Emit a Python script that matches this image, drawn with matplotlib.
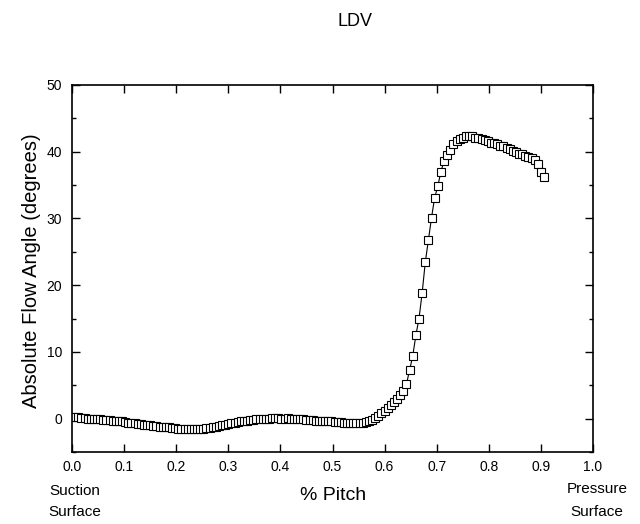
import matplotlib.pyplot as plt
from matplotlib.ticker import MultipleLocator

plt.rcParams['font.family'] = ['Liberation Sans', 'DejaVu Sans']

# LDV traverse across the passage: pitch fraction vs absolute flow angle
pitch = [
    0.000, 0.006, 0.012, 0.018, 0.024, 0.030, 0.036, 0.042, 0.048, 0.054,
    0.060, 0.066, 0.072, 0.078, 0.084, 0.090, 0.096, 0.102, 0.108, 0.114,
    0.120, 0.126, 0.132, 0.138, 0.144, 0.150, 0.156, 0.162, 0.168, 0.174,
    0.180, 0.186, 0.192, 0.198, 0.204, 0.210, 0.216, 0.222, 0.228, 0.234,
    0.240, 0.246, 0.252, 0.258, 0.264, 0.270, 0.276, 0.282, 0.288, 0.294,
    0.300, 0.306, 0.312, 0.318, 0.324, 0.330, 0.336, 0.342, 0.348, 0.354,
    0.360, 0.366, 0.372, 0.378, 0.384, 0.390, 0.396, 0.402, 0.408, 0.414,
    0.420, 0.426, 0.432, 0.438, 0.444, 0.450, 0.456, 0.462, 0.468, 0.474,
    0.480, 0.486, 0.492, 0.498, 0.504, 0.510, 0.516, 0.522, 0.528, 0.534,
    0.540, 0.546, 0.552, 0.558, 0.564, 0.570, 0.576, 0.582, 0.588, 0.594,
    0.600, 0.606, 0.612, 0.618, 0.624, 0.630, 0.636, 0.642, 0.648, 0.654,
    0.660, 0.666, 0.672, 0.678, 0.684, 0.690, 0.696, 0.702, 0.708, 0.714,
    0.720, 0.726, 0.732, 0.738, 0.744, 0.750, 0.756, 0.762, 0.768, 0.774,
    0.780, 0.786, 0.792, 0.798, 0.804, 0.810, 0.816, 0.822, 0.828, 0.834,
    0.840, 0.846, 0.852, 0.858, 0.864, 0.870, 0.876, 0.882, 0.888, 0.894,
    0.900, 0.906,
]
angle = [
    0.3, 0.2, 0.2, 0.1, 0.1, 0.0, 0.0, -0.1, -0.1, -0.1,
    -0.2, -0.2, -0.2, -0.3, -0.3, -0.4, -0.4, -0.5, -0.6, -0.6,
    -0.7, -0.8, -0.8, -0.9, -1.0, -1.0, -1.1, -1.1, -1.2, -1.2,
    -1.3, -1.3, -1.4, -1.4, -1.5, -1.5, -1.5, -1.6, -1.6, -1.6,
    -1.5, -1.5, -1.5, -1.4, -1.4, -1.3, -1.2, -1.1, -1.0, -0.9,
    -0.8, -0.7, -0.6, -0.5, -0.4, -0.4, -0.3, -0.2, -0.2, -0.1,
    -0.1, 0.0, 0.0, 0.0, 0.1, 0.1, 0.1, 0.0, 0.0, 0.1,
    0.0, 0.0, -0.1, -0.1, -0.1, -0.2, -0.2, -0.2, -0.3, -0.3,
    -0.3, -0.4, -0.4, -0.4, -0.5, -0.5, -0.5, -0.6, -0.6, -0.6,
    -0.6, -0.6, -0.6, -0.6, -0.5, -0.4, -0.2, 0.1, 0.4, 0.8,
    1.2, 1.6, 2.0, 2.5, 3.0, 3.5, 4.1, 5.2, 7.3, 9.4,
    12.5, 15.0, 18.8, 23.4, 26.8, 30.1, 33.1, 34.8, 37.0, 38.6,
    39.5, 40.3, 41.2, 41.6, 41.9, 42.1, 42.3, 42.4, 42.3, 42.1,
    42.0, 41.9, 41.8, 41.6, 41.3, 41.3, 41.2, 40.9, 40.8, 40.6,
    40.4, 40.1, 39.9, 39.7, 39.6, 39.4, 39.2, 39.0, 38.7, 38.1,
    37.0, 36.2,
]

fig = plt.figure(figsize=(6.4, 5.24), dpi=100)
ax = fig.add_axes([0.1125, 0.1374, 0.8141, 0.7004])

ax.plot(pitch, angle, color='black', linewidth=0.8, marker='s',
        markersize=5.8, markerfacecolor='white', markeredgecolor='black',
        markeredgewidth=0.8)

ax.set_xlim(0.0, 1.0)
ax.set_ylim(-5, 50)
ax.xaxis.set_major_locator(MultipleLocator(0.1))
ax.yaxis.set_major_locator(MultipleLocator(10))
ax.yaxis.set_minor_locator(MultipleLocator(5))
ax.xaxis.set_major_formatter(plt.FuncFormatter(lambda v, p: f'{v:.1f}'))

ax.tick_params(which='both', direction='in', top=True, right=True,
               labelsize=10, width=1.0)
ax.tick_params(axis='x', pad=6)
ax.tick_params(axis='y', pad=7)
ax.tick_params(which='major', length=6)
ax.tick_params(which='minor', length=3)
for s in ax.spines.values():
    s.set_linewidth(1.2)

ax.set_ylabel('Absolute Flow Angle (degrees)', fontsize=14.5)
ax.yaxis.set_label_coords(-0.06, 0.495)

fig.text(333 / 640, 1 - 496 / 524, '% Pitch', fontsize=14,
         ha='center', va='center')
fig.text(75 / 640, 1 - 491 / 524, 'Suction', fontsize=11, ha='center', va='center')
fig.text(75 / 640, 1 - 512 / 524, 'Surface', fontsize=11, ha='center', va='center')
fig.text(597 / 640, 1 - 489 / 524, 'Pressure', fontsize=11, ha='center', va='center')
fig.text(597 / 640, 1 - 512 / 524, 'Surface', fontsize=11, ha='center', va='center')
fig.text(355 / 640, 1 - 22 / 524, 'LDV', fontsize=13, ha='center', va='center')

fig.savefig('out.png', dpi=100)
